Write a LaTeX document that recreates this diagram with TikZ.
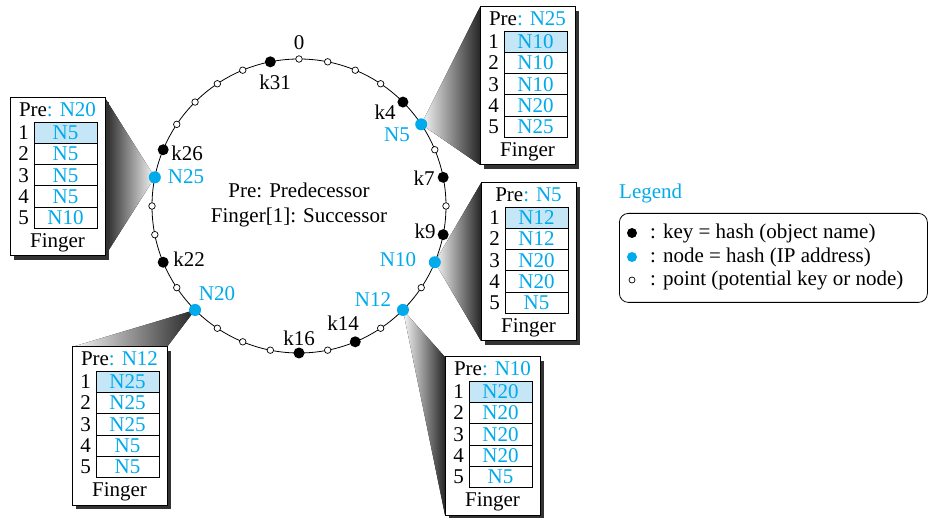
\documentclass[tikz,border=0pt]{standalone}
\usepackage{fontspec}
\setmainfont{Liberation Serif}
\usepackage{xcolor}
\usepackage{tikz}
\usetikzlibrary{positioning,calc,shadows,backgrounds}
\definecolor{nodeblue}{RGB}{0,170,235}
\definecolor{rowblue}{RGB}{196,230,246}

\newcommand{\fingertab}[8]{%
  \node[tabbox, anchor=north west] (#1) at #2 {};
  \node (#1pre) at ($(#1.north)+(0,11.5)$) {Pre\textcolor{nodeblue}{: #3}};
  \node[cell, fill=rowblue, anchor=north west] (#1c1) at ($(#1.north west)+(24,24)$) {#4};
  \node[cell, below=0pt of #1c1] (#1c2) {#5};
  \node[cell, below=0pt of #1c2] (#1c3) {#6};
  \node[cell, below=0pt of #1c3] (#1c4) {#7};
  \node[cell, below=0pt of #1c4] (#1c5) {#8};
  \foreach \rw in {1,...,5} \node[left=5pt of #1c\rw] (#1n\rw) {\rw};
  \node (#1fin) at ($(#1.north)+(0,145)$) {Finger};
}

\begin{document}
\begin{tikzpicture}[x=1pt, y=-1pt, every node/.style={font=\fontsize{21}{25}\selectfont, inner sep=0pt}]
    \tikzstyle{ptdot}=[circle, draw, fill=white, line width=.7pt, minimum size=6.5pt]
    \tikzstyle{keydot}=[circle, fill=black, minimum size=11pt]
    \tikzstyle{nodedot}=[circle, fill=nodeblue, minimum size=12pt]
    \tikzstyle{blue}=[text=nodeblue]
    \tikzstyle{tabbox}=[draw, fill=white, line width=1pt, minimum width=95pt, minimum height=158pt, outer sep=0pt, drop shadow={shadow xshift=4pt, shadow yshift=-4pt, fill=black!80, opacity=1}]
    \tikzstyle{cell}=[draw, line width=.8pt, text=nodeblue, minimum width=63pt, minimum height=21.3pt, outer sep=0pt]
    \tikzstyle{wedge}=[left color=black!3, right color=black!85]
    \useasboundingbox (0,0) rectangle (929,518);

    \draw[line width=.8pt] (299,206) circle[radius=147pt];
    \foreach \i in {0,...,31}
      \node[ptdot] (p\i) at ({299+147*sin(\i*11.25)},{206-147*cos(\i*11.25)}) {};
    \node[keydot] (k31) at (p31) {};
    \node[keydot] (k4) at (p4) {};
    \node[keydot] (k7) at (p7) {};
    \node[keydot] (k9) at (p9) {};
    \node[keydot] (k14) at (p14) {};
    \node[keydot] (k16) at (p16) {};
    \node[keydot] (k22) at (p22) {};
    \node[keydot] (k26) at (p26) {};
    \node[nodedot] (n5) at (p5) {};
    \node[nodedot] (n10) at (p10) {};
    \node[nodedot] (n12) at (p12) {};
    \node[nodedot] (n20) at (p20) {};
    \node[nodedot] (n25) at (p25) {};

    \node (l0) at (299,43) {0};
    \node (lk31) at (275,82) {k31};
    \node (lk4) at (385,112) {k4};
    \node[blue] (ln5) at (397,135) {N5};
    \node (lk7) at (424,178) {k7};
    \node (lk9) at (425,231) {k9};
    \node[blue] (ln10) at (398,260) {N10};
    \node[blue] (ln12) at (373,300) {N12};
    \node (lk14) at (343,323) {k14};
    \node (lk16) at (299,338) {k16};
    \node[blue] (ln20) at (217,294) {N20};
    \node (lk22) at (189,259) {k22};
    \node[blue] (ln25) at (186,177) {N25};
    \node (lk26) at (187,153) {k26};
    \node[align=center] (info) at (299,205) {Pre: Predecessor\\Finger[1]: Successor};

    \fingertab{t5}{(480,7)}{N25}{N10}{N10}{N10}{N20}{N25}
    \fingertab{t10}{(481,183)}{N5}{N12}{N12}{N20}{N20}{N5}
    \fingertab{t25}{(10,98)}{N20}{N5}{N5}{N5}{N5}{N10}
    \fingertab{t20}{(72,347)}{N12}{N25}{N25}{N25}{N5}{N5}
    \fingertab{t12}{(445,357)}{N10}{N20}{N20}{N20}{N20}{N5}

    \begin{scope}[on background layer]
      \fill[wedge] (n5.center) -- (t5.north west) -- (t5.south west) -- cycle;
      \fill[wedge] (n10.center) -- (t10.north west) -- (t10.south west) -- cycle;
      \fill[wedge] (n12.center) -- (t12.north west) -- (t12.south west) -- cycle;
      \fill[wedge] (n20.center) -- (t20.north west) -- (t20.north east) -- cycle;
      \fill[left color=black!85, right color=black!3] (n25.center) -- (t25.north east) -- (t25.south east) -- cycle;
    \end{scope}

    \node[blue, anchor=west] (legt) at (619,193) {Legend};
    \node[draw, line width=.8pt, rounded corners=9pt, minimum width=308pt, minimum height=89pt, anchor=north west] (leg) at (619,213) {};
    \node[keydot, minimum size=10pt] (lgk) at (632,233) {};
    \node[anchor=west] (lgkt) at (650,233) {: key = hash (object name)};
    \node[nodedot, minimum size=10pt] (lgn) at (632,257) {};
    \node[anchor=west] (lgnt) at (650,257) {: node = hash (IP address)};
    \node[ptdot, minimum size=6pt] (lgp) at (632,280) {};
    \node[anchor=west] (lgpt) at (650,280) {: point (potential key or node)};
\end{tikzpicture}
\end{document}
